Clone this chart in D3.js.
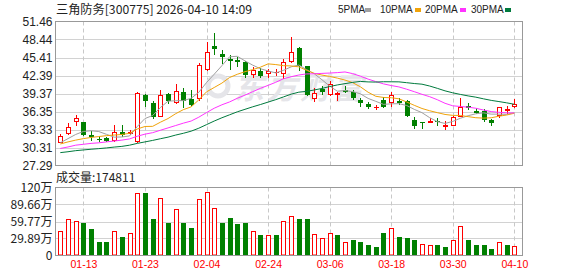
<!DOCTYPE html>
<html><head><meta charset="utf-8">
<script src="https://cdn.jsdelivr.net/npm/d3@7"></script>
<style>body{margin:0;background:#fff}svg{display:block}</style>
</head><body>
<svg id="c" width="578" height="276"></svg>
<script>
const dates=["01-08","01-09","01-12","01-13","01-14","01-15","01-16","01-19","01-20","01-21",
"01-22","01-23","01-26","01-27","01-28","01-29","01-30","02-02","02-03","02-04",
"02-05","02-06","02-09","02-10","02-11","02-12","02-13","02-24","02-25","02-26",
"02-27","03-02","03-03","03-04","03-05","03-06","03-09","03-10","03-11","03-12",
"03-13","03-16","03-17","03-18","03-19","03-20","03-23","03-24","03-25","03-26",
"03-27","03-30","03-31","04-01","04-02","04-03","04-07","04-08","04-09","04-10"];
const open=[31.10,32.61,34.56,34.51,32.33,31.77,31.94,31.32,32.83,32.61,
31.20,39.04,37.86,35.51,39.26,37.86,39.71,38.48,38.42,43.29,
47.43,46.04,45.13,45.03,44.58,42.51,43.18,42.68,42.79,42.61,
44.63,46.98,43.91,38.42,40.10,39.09,39.16,39.88,39.59,38.32,
37.58,37.05,38.32,37.81,38.20,38.08,34.96,34.51,34.46,34.84,
33.79,33.95,35.51,37.36,36.52,36.52,35.01,35.56,36.52,37.08];
const high=[32.50,34.46,35.85,34.62,33.00,32.27,31.99,34.17,34.17,33.33,
39.60,39.32,38.15,39.99,39.42,41.05,40.26,39.99,44.46,47.99,
49.50,46.64,45.87,45.42,44.86,43.74,43.62,43.50,43.52,45.20,
48.89,47.10,44.00,40.38,40.55,41.39,39.60,40.55,40.00,38.59,
38.03,37.48,38.87,39.71,38.59,38.32,35.40,34.51,35.30,35.18,
34.84,35.68,38.65,37.81,36.91,36.81,35.13,37.10,37.36,38.48];
const low=[31.00,32.49,33.95,32.16,31.37,31.27,31.20,31.20,32.04,32.33,
31.10,37.08,35.06,35.40,37.65,37.58,37.02,37.36,38.20,43.07,
45.87,44.29,43.35,43.74,41.94,42.06,41.94,41.94,42.35,41.85,
44.46,43.18,39.00,38.03,39.04,38.92,38.20,39.43,38.32,37.19,
36.69,36.64,37.02,37.19,37.48,35.51,33.45,33.45,34.40,33.96,
33.33,33.90,35.40,36.64,35.97,34.67,34.00,35.30,35.97,37.00];
const close=[32.27,33.72,35.30,32.33,31.99,31.60,31.37,32.95,32.49,32.83,
39.49,38.08,35.51,39.16,38.20,39.83,38.20,37.48,44.19,46.37,
46.81,45.42,44.91,44.58,42.51,43.29,42.35,43.07,42.95,44.63,
46.26,43.91,39.16,39.50,39.60,41.00,39.54,39.71,38.59,37.75,
37.14,37.10,37.06,39.04,37.86,35.68,33.84,34.40,34.84,34.51,
34.17,35.51,37.08,36.97,36.13,34.96,34.39,37.08,36.81,37.53];
const prevClose0=31.0;
// volume in 万
const volume=[42.2,63.3,61.0,56.3,46.3,24.6,22.9,43.4,33.4,39.9,
110.2,109.0,65.0,101.4,58.0,80.9,56.3,47.5,99.7,112.5,
83.8,58.0,66.8,54.5,56.3,43.4,36.9,36.4,35.2,61.0,
70.3,65.0,65.0,38.1,31.1,39.9,35.2,24.1,28.1,22.9,
19.3,15.8,38.7,48.7,33.4,29.9,26.4,20.5,18.8,19.3,
15.8,26.4,51.0,26.4,17.6,17.6,12.3,24.6,19.3,17.48];
const ma5=[31.10,31.80,32.50,33.00,33.12,32.99,32.52,32.05,32.08,32.25,
33.83,35.17,35.68,37.01,38.09,38.16,38.18,38.57,39.58,41.21,
42.61,44.05,45.54,45.62,44.85,44.14,43.53,43.16,42.83,43.26,
43.85,44.16,43.38,42.69,41.69,40.63,39.76,39.87,39.69,39.32,
38.55,38.06,37.55,37.64,37.66,37.37,36.71,36.16,35.32,34.65,
34.35,34.69,35.22,35.65,35.97,36.13,35.91,35.91,35.87,36.15];
const ma10=[30.90,31.25,31.55,31.80,32.00,32.15,32.30,32.40,32.50,32.69,
33.41,33.84,33.86,34.55,35.17,35.99,36.67,37.13,38.30,39.65,
40.38,41.12,42.06,42.60,43.03,43.38,43.79,44.35,44.23,44.05,
44.00,43.85,43.27,42.76,42.47,42.24,41.96,41.63,41.19,40.50,
39.59,38.91,38.71,38.66,38.49,37.96,37.39,36.86,36.48,36.16,
35.86,35.70,35.69,35.49,35.31,35.24,35.30,35.56,35.76,36.06];
const ma20=[30.15,30.40,30.70,30.85,31.00,31.10,31.25,31.40,31.55,31.75,
32.20,32.55,32.80,33.20,33.60,34.00,34.40,34.75,35.40,36.17,
36.90,37.48,37.96,38.57,39.10,39.68,40.23,40.74,41.26,41.85,
42.19,42.48,42.66,42.68,42.75,42.81,42.88,42.99,42.71,42.28,
41.79,41.38,40.99,40.71,40.48,40.10,39.68,39.24,38.84,38.33,
37.73,37.31,37.20,37.08,36.90,36.60,36.34,36.21,36.12,36.11];
const ma30=[29.45,29.60,29.78,29.90,30.02,30.12,30.24,30.38,30.50,30.70,
31.00,31.25,31.50,31.78,32.05,32.40,32.70,33.05,33.55,34.15,
34.75,35.30,35.80,36.30,36.72,37.14,37.52,37.93,38.34,38.80,
39.26,39.60,39.73,39.97,40.22,40.54,40.81,41.03,41.24,41.40,
41.32,41.29,41.35,41.34,41.33,41.19,41.05,40.94,40.63,40.24,
39.82,39.49,39.22,38.97,38.76,38.48,38.22,38.02,37.81,37.57];
const priceTicks=[27.29,30.31,33.33,36.35,39.37,42.39,45.41,48.44,51.46];
const volTicks=[0,29.89,59.77,89.66,119.54];
const volTickLabels=["0","29.89万","59.77万","89.66万","120万"];
const tickDates=["01-13","01-23","02-04","02-24","03-06","03-18","03-30","04-10"];
const title="三角防务[300775] 2026-04-10 14:09";
const volTitle="成交量:174811";
const maNames=["5PMA","10PMA","20PMA","30PMA"];
const maColors=["#a0a0a0","#f0a30a","#ff33ff","#007a3d"];

const UP="#ff0000", DOWN="#008000";
const svg=d3.select("#c");
const L=55.5,R=522.5,T=21.5,B=165.5,VT=187.5,VB=255.5;
const x=d3.scalePoint().domain(dates).range([60.3,514.3]);
const yP=d3.scaleLinear().domain([27.29,51.46]).range([B,T]);
const yV=d3.scaleLinear().domain([0,119.54]).range([VB,VT]);
const cx=d=>Math.round(x(d))+0.5;
const font="'Liberation Sans',Arial,sans-serif";
const cjk="'Noto Sans CJK SC','Liberation Sans',sans-serif";

// grids
const g=svg.append("g");
g.selectAll(".hp").data(priceTicks.slice(1,-1)).join("line")
 .attr("x1",L).attr("x2",R).attr("y1",d=>Math.round(yP(d))+0.5).attr("y2",d=>Math.round(yP(d))+0.5)
 .attr("stroke","#d2d2d2");
g.selectAll(".hv").data(volTicks.slice(1,-1)).join("line")
 .attr("x1",L).attr("x2",R).attr("y1",d=>Math.round(yV(d))+0.5).attr("y2",d=>Math.round(yV(d))+0.5)
 .attr("stroke","#d2d2d2");
[[T,B],[VT,VB]].forEach(([a,b])=>{
 g.append("g").selectAll("line").data(tickDates).join("line")
  .attr("x1",d=>cx(d)).attr("x2",d=>cx(d)).attr("y1",a).attr("y2",b)
  .attr("stroke","#c8c8c8").attr("stroke-dasharray","4,3");
});

// watermark
const wm=svg.append("g").attr("fill","#e5e5e9");
wm.append("circle").attr("cx",218).attr("cy",86).attr("r",10).attr("fill","none").attr("stroke","#e5e5e9").attr("stroke-width",5);
wm.append("text").attr("x",234).attr("y",99).attr("font-family",cjk).attr("font-size",30).attr("font-weight","bold")
 .attr("font-style","italic").attr("letter-spacing",3).text("东方财富");

// candles
const cg=svg.append("g");
dates.forEach((d,i)=>{
 const o=open[i],c=close[i],h=high[i],l=low[i],X=cx(d);
 const up=c>=o;
 const t=Math.round(yP(Math.max(o,c))),b=Math.round(yP(Math.min(o,c)));
 const yh=Math.round(yP(h)),yl=Math.round(yP(l));
 if(up){
  if(b-t<=1){
   cg.append("line").attr("x1",X).attr("x2",X).attr("y1",yh).attr("y2",yl).attr("stroke",UP);
   cg.append("line").attr("x1",X-2.5).attr("x2",X+2.5).attr("y1",t+0.5).attr("y2",t+0.5).attr("stroke",UP);
  } else {
   cg.append("line").attr("x1",X).attr("x2",X).attr("y1",yh).attr("y2",t).attr("stroke",UP);
   cg.append("line").attr("x1",X).attr("x2",X).attr("y1",b).attr("y2",yl).attr("stroke",UP);
   cg.append("rect").attr("x",X-2).attr("y",t+0.5).attr("width",4).attr("height",b-t-1)
    .attr("fill","#fff").attr("stroke",UP);
  }
 } else {
  cg.append("line").attr("x1",X).attr("x2",X).attr("y1",yh).attr("y2",yl).attr("stroke",DOWN);
  cg.append("rect").attr("x",X-2.5).attr("y",t).attr("width",5).attr("height",Math.max(b-t,1)).attr("fill",DOWN);
 }
});

// MA lines
const mas=[ma5,ma10,ma20,ma30];
mas.forEach((m,k)=>{
 svg.append("path").datum(m).attr("fill","none").attr("stroke",maColors[k]).attr("stroke-width",1)
  .attr("d",d3.line().x((v,i)=>x(dates[i])).y(v=>yP(v)));
});

// volume bars
const vg=svg.append("g");
dates.forEach((d,i)=>{
 const pc=i===0?prevClose0:close[i-1];
 const up=close[i]>=pc, X=cx(d), top=Math.round(yV(volume[i]));
 if(up){
  vg.append("rect").attr("x",X-2).attr("y",top+0.5).attr("width",4).attr("height",255-top-0.5)
   .attr("fill","#fff").attr("stroke",UP);
 } else {
  vg.append("rect").attr("x",X-2.5).attr("y",top).attr("width",5).attr("height",255.5-top).attr("fill",DOWN);
 }
});

// frames
svg.append("rect").attr("x",L).attr("y",T).attr("width",R-L).attr("height",B-T).attr("fill","none").attr("stroke","#999");
svg.append("rect").attr("x",L).attr("y",VT).attr("width",R-L).attr("height",VB-VT).attr("fill","none").attr("stroke","#999");

// axes
const ax1=svg.append("g").attr("transform",`translate(${L},0)`)
 .call(d3.axisLeft(yP).tickValues(priceTicks).tickFormat(d3.format(".2f")).tickSize(0).tickPadding(3));
const ax2=svg.append("g").attr("transform",`translate(${L},0)`)
 .call(d3.axisLeft(yV).tickValues(volTicks).tickFormat((d,i)=>volTickLabels[i]).tickSize(0).tickPadding(3));
[ax1,ax2].forEach(a=>{a.select(".domain").remove();a.selectAll("text").attr("font-family",font).attr("font-size",12).attr("fill","#222");});
ax2.selectAll("text").attr("font-family",cjk);
const ax3=svg.append("g").attr("transform",`translate(0,${VB})`)
 .call(d3.axisBottom(x).tickValues(tickDates).tickSize(0).tickPadding(5));
ax3.select(".domain").remove();
ax3.selectAll("text").attr("font-family",font).attr("font-size",10.5).attr("fill",UP);

// titles
svg.append("text").attr("x",56).attr("y",13.5).attr("font-family",cjk).attr("font-size",12.2).attr("fill","#222").text(title);
svg.append("text").attr("x",56).attr("y",182).attr("font-family",cjk).attr("font-size",12).attr("fill","#222").text(volTitle);
// legend
const legX=[338,380,425,471], sqX=[365,415,460,505];
maNames.forEach((n,k)=>{
 svg.append("text").attr("x",legX[k]).attr("y",12.5).attr("font-family",font).attr("font-size",10).attr("fill","#222").text(n);
 svg.append("rect").attr("x",sqX[k]).attr("y",8).attr("width",6).attr("height",4).attr("fill",maColors[k]);
});
</script>
</body></html>
